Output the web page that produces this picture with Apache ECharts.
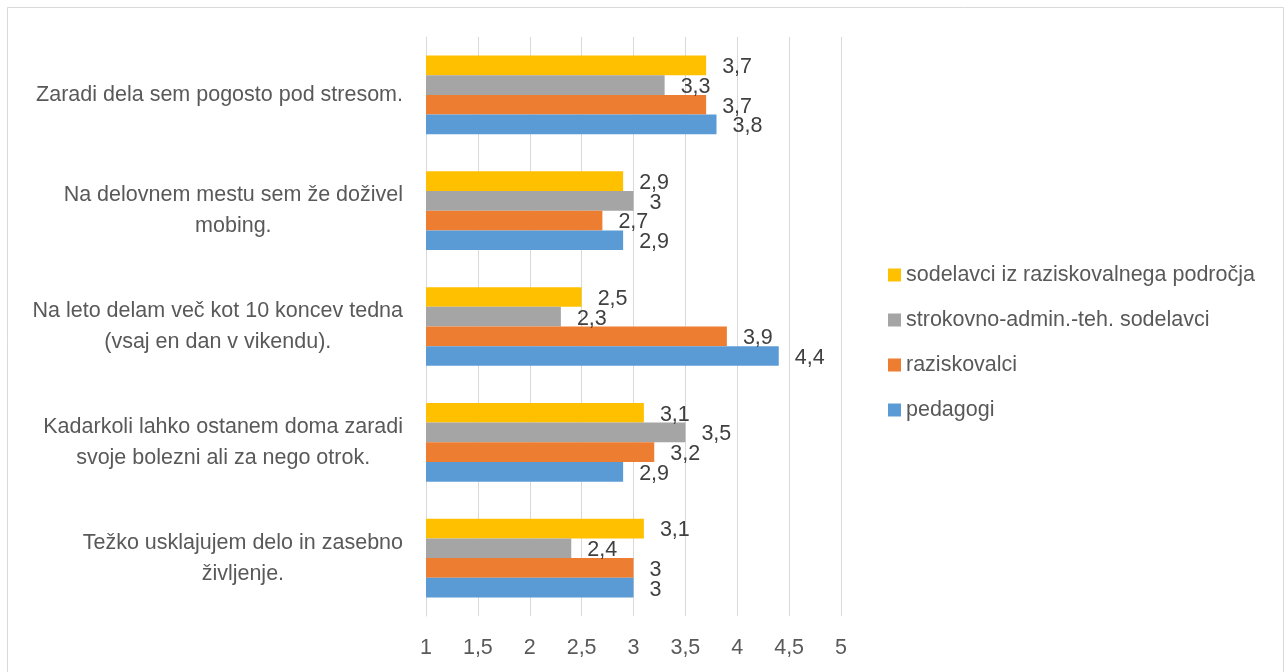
<!DOCTYPE html>
<html>
<head>
<meta charset="utf-8">
<script src="https://cdn.jsdelivr.net/npm/echarts@6/dist/echarts.min.js"></script>
<style>
    html, body { margin: 0; padding: 0; background: #fff; }
    #chart { width: 1285px; height: 672px; }
</style>
</head>
<body>
<div id="chart"></div>
<script>
    // vprašanja (od zgoraj navzdol)
    const categories = [
        'Zaradi dela sem pogosto pod stresom.',
        'Na delovnem mestu sem že doživel mobing.',
        'Na leto delam več kot 10 koncev tedna (vsaj en dan v vikendu).',
        'Kadarkoli lahko ostanem doma zaradi svoje bolezni ali za nego otrok.',
        'Težko usklajujem delo in zasebno življenje.'
    ];
    const sodelavciRaz = [3.7, 2.9, 2.5, 3.1, 3.1];
    const strokovno = [3.3, 3.0, 2.3, 3.5, 2.4];
    const raziskovalci = [3.7, 2.7, 3.9, 3.2, 3.0];
    const pedagogi = [3.8, 2.9, 4.4, 2.9, 3.0];
    const xTicks = [1, 1.5, 2, 2.5, 3, 3.5, 4, 4.5, 5];

    const FONT = '"Liberation Sans", Arial, sans-serif';
    const FS = 21.5;

    // lomljenje daljših oznak v vrstice
    const ctx = document.createElement('canvas').getContext('2d');
    ctx.font = FS + 'px "Liberation Sans"';
    function wrap(text, maxW) {
        let words = text.split(' '), lines = [], cur = '';
        words.forEach(w => {
            let test = cur ? cur + ' ' + w : w;
            if (cur && ctx.measureText(test).width > maxW) {
                lines.push(cur);
                cur = w;
            } else {
                cur = test;
            }
        });
        if (cur) lines.push(cur);
        return lines;
    }

    const comma = v => String(v).replace('.', ',');

    function makeSeries(name, data, color) {
        return {
            name: name,
            type: 'bar',
            data: data,
            barGap: 0,
            barCategoryGap: '32%',
            itemStyle: { color: color },
            label: {
                show: true,
                position: 'right',
                distance: 16,
                offset: [0, 2],
                color: '#404040',
                fontSize: FS,
                fontFamily: FONT,
                formatter: p => comma(p.value)
            }
        };
    }

    let myChart = echarts.init(document.getElementById('chart'));
    let option = {
        animation: false,
        backgroundColor: '#fff',
        textStyle: { fontFamily: FONT },
        graphic: [{
            type: 'rect',
            shape: { x: 7.5, y: 7.5, width: 1276, height: 700 },
            style: { fill: 'none', stroke: '#d9d9d9', lineWidth: 1 },
            silent: true
        }],
        legend: {
            orient: 'vertical',
            left: 888,
            top: 264,
            padding: 0,
            icon: 'rect',
            itemWidth: 13,
            itemHeight: 13,
            itemGap: 23,
            textStyle: { color: '#595959', fontSize: FS, lineHeight: 22, fontFamily: FONT },
            data: ['sodelavci iz raziskovalnega področja', 'strokovno-admin.-teh. sodelavci', 'raziskovalci', 'pedagogi']
        },
        grid: {
            left: 426,
            right: 444,
            top: 37,
            bottom: 56
        },
        xAxis: {
            type: 'value',
            min: xTicks[0],
            max: xTicks[xTicks.length - 1],
            interval: 0.5,
            axisLine: { show: false },
            axisTick: { show: false },
            splitLine: { show: true, lineStyle: { color: '#d9d9d9', width: 1 } },
            axisLabel: {
                color: '#595959',
                fontSize: FS,
                fontFamily: FONT,
                margin: 21,
                formatter: v => comma(v)
            }
        },
        yAxis: {
            type: 'category',
            inverse: true,
            data: categories,
            axisLine: { show: true, lineStyle: { color: '#d9d9d9', width: 1 } },
            axisTick: { show: false },
            axisLabel: {
                margin: 23,
                formatter: v => wrap(v, 385).map(l => '{c|' + l + '}').join('\n'),
                rich: {
                    c: { align: 'center', color: '#595959', fontSize: FS, lineHeight: 31, fontFamily: FONT }
                }
            }
        },
        series: [
            makeSeries('sodelavci iz raziskovalnega področja', sodelavciRaz, '#FFC000'),
            makeSeries('strokovno-admin.-teh. sodelavci', strokovno, '#A5A5A5'),
            makeSeries('raziskovalci', raziskovalci, '#ED7D31'),
            makeSeries('pedagogi', pedagogi, '#5B9BD5')
        ]
    };
    myChart.setOption(option);
</script>
</body>
</html>
